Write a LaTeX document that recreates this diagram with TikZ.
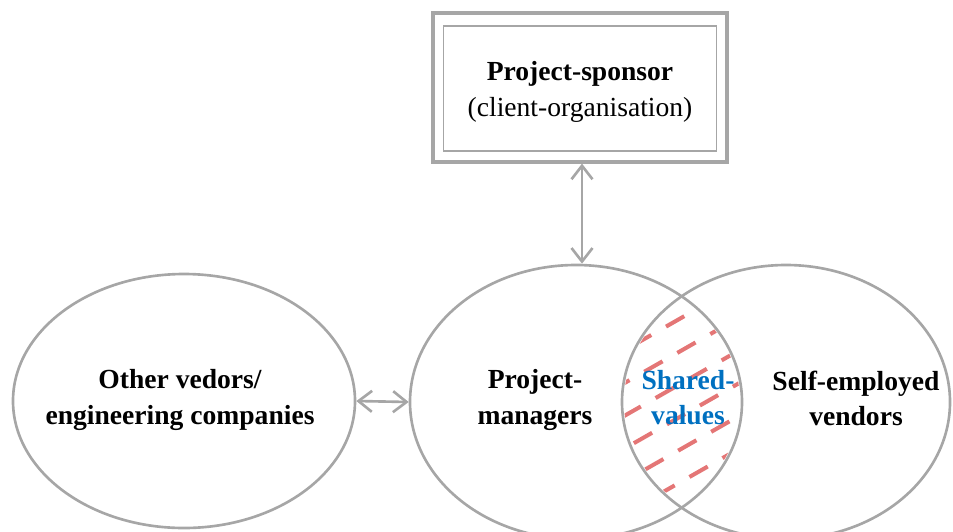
\documentclass[tikz,border=0pt]{standalone}
\usepackage{fontspec}
\setmainfont{Liberation Serif}
\usetikzlibrary{arrows.meta,positioning,shapes.geometric}
\definecolor{linegray}{RGB}{166,166,166}
\definecolor{hatchred}{RGB}{228,118,118}
\definecolor{valueblue}{RGB}{0,112,192}

\begin{document}
\begin{tikzpicture}[
    party/.style={draw=linegray, line width=1.5pt, ellipse, minimum width=6.84cm, minimum height=5.08cm},
    txt/.style={align=center, font=\fontsize{15.7}{20}\selectfont\bfseries},
    outerbox/.style={draw=linegray, line width=1.8pt, minimum width=5.88cm, minimum height=2.98cm},
    innerbox/.style={draw=linegray, line width=0.9pt, minimum width=5.46cm, minimum height=2.5cm},
    arrow/.style={{Straight Barb[length=2.7mm,width=4.2mm]}-{Straight Barb[length=2.7mm,width=4.2mm]}, draw=linegray, line width=1.5pt},
    hatch/.style={draw=hatchred, line width=2.3pt, dash pattern=on 0.42cm off 0.34cm}
  ]
    \useasboundingbox (0,0) rectangle (19.06,-10.62);
    \node[outerbox] (frame) at (11.6,-1.75) {};
    \node[innerbox] (sponsor) at (11.6,-1.77) {};
    \node[align=center, font=\fontsize{15.7}{20.5}\selectfont] (sponsortext) at (11.6,-1.84)
      {\textbf{Project-sponsor}\\(client-organisation)};
    \node[party] (others) at (3.68,-8.02) {};
    \node[party, minimum width=6.64cm, minimum height=5.48cm] (pm) at (11.52,-8.04) {};
    \node[party, minimum width=6.56cm, minimum height=5.48cm] (vendors) at (15.72,-8.04) {};
    % dashed hatching inside the overlap of the two right ellipses
    \begin{scope}
      \clip (pm.center) ellipse [x radius=3.28cm, y radius=2.7cm];
      \clip (vendors.center) ellipse [x radius=3.24cm, y radius=2.7cm];
      \foreach \k in {-1,...,6}
        \draw[hatch, dash phase={0.38cm*mod(\k+2,2)+0.12cm*\k}] (12.0,-7.285-0.655*\k) -- ++(3.4,1.94);
    \end{scope}
    \node[txt] (otherstext) at (3.6,-8.0) {Other vedors/\\engineering companies};
    \node[txt] (pmtext) at (10.7,-8.0) {Project-\\managers};
    \node[txt, text=valueblue] (sharedtext) at (13.76,-7.96) {Shared-\\values};
    \node[txt] (vendorstext) at (17.12,-7.96) {Self-employed\\vendors};
    \draw[arrow] ([xshift=0.04cm]frame.south) -- ([xshift=0.04cm]frame.south |- pm.north);
    \draw[arrow] (others.east) -- (pm.west);
  \end{tikzpicture}
\end{document}
